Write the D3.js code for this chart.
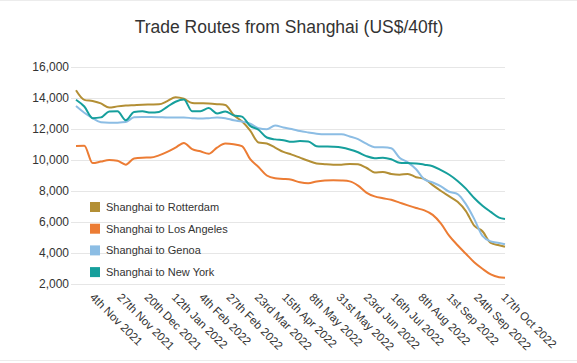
<!DOCTYPE html>
<html>
<head>
<meta charset="utf-8">
<script src="https://cdn.jsdelivr.net/npm/d3@7"></script>
<style>
  body { margin: 0; background: #fff; }
  svg { font-family: "Liberation Sans", Arial, sans-serif; display: block; }
</style>
</head>
<body>
<div id="chart"></div>
<script>
// Trade Routes from Shanghai - weekly readings (US$/40ft)

const dates = [
  "2021-10-25", "2021-11-01", "2021-11-08", "2021-11-15", "2021-11-22", "2021-11-29",
  "2021-12-06", "2021-12-13", "2021-12-20", "2021-12-27", "2022-01-03", "2022-01-10",
  "2022-01-17", "2022-01-24", "2022-01-31", "2022-02-07", "2022-02-14", "2022-02-21",
  "2022-02-28", "2022-03-07", "2022-03-14", "2022-03-21", "2022-03-28", "2022-04-04",
  "2022-04-11", "2022-04-18", "2022-04-25", "2022-05-02", "2022-05-09", "2022-05-16",
  "2022-05-23", "2022-05-30", "2022-06-06", "2022-06-13", "2022-06-20", "2022-06-27",
  "2022-07-04", "2022-07-11", "2022-07-18", "2022-07-25", "2022-08-01", "2022-08-08",
  "2022-08-15", "2022-08-22", "2022-08-29", "2022-09-05", "2022-09-12", "2022-09-19",
  "2022-09-26", "2022-10-03", "2022-10-10", "2022-10-17", "2022-10-22"
];

const rotterdam = [
  14500, 13880, 13800, 13650, 13380, 13460, 13510, 13540, 13570, 13580, 13590, 13800,
  14050, 13950, 13680, 13660, 13640, 13600, 13550, 12900, 12500, 11900, 11130, 11060,
  10800, 10520, 10350, 10150, 9950, 9780, 9730, 9700, 9700, 9750, 9720, 9500,
  9200, 9230, 9100, 9050, 9100, 8890, 8780, 8380, 8000, 7650, 7300, 6700,
  5770, 5400, 4650, 4500, 4400
];

const losAngeles = [
  10900, 10920, 9800, 9900, 10000, 9950, 9700, 10100, 10150, 10160, 10300, 10520,
  10800, 11100, 10700, 10560, 10400, 10800, 11060, 11020, 10900, 10050, 9550, 9000,
  8820, 8780, 8720, 8560, 8500, 8620, 8680, 8700, 8680, 8620, 8350, 7900,
  7650, 7530, 7430, 7250, 7070, 6900, 6750, 6460, 5900, 5100, 4500, 3950,
  3400, 2980, 2620, 2440, 2400
];

const genoa = [
  13480, 13050, 12700, 12430, 12400, 12410, 12450, 12760, 12780, 12770, 12760, 12740,
  12740, 12740, 12700, 12670, 12700, 12740, 12700, 12560, 12480, 12350, 12050, 11980,
  12220, 12100, 12000, 11870, 11780, 11700, 11660, 11660, 11660, 11520, 11350, 11050,
  10830, 10820, 10760, 10150, 9850, 9400, 8750, 8550, 8300, 7950, 7800, 7150,
  6200, 5100, 4750, 4650, 4560
];

const newYork = [
  13890, 13450, 12700, 12750, 13130, 13150, 12560, 13100, 13140, 13060, 13100, 13430,
  13760, 13900, 13150, 13150, 13350, 13000, 13130, 12880, 12800, 12200, 11950, 11450,
  11330, 11280, 11170, 11220, 11200, 10890, 10870, 10850, 10800, 10680, 10500, 10250,
  10120, 10150, 10050, 9820, 9800, 9780, 9700, 9600, 9350, 9050, 8650, 8150,
  7550, 7050, 6650, 6280, 6200
];

const routeNames = [
  "Shanghai to Rotterdam", "Shanghai to Los Angeles",
  "Shanghai to Genoa", "Shanghai to New York"
];
const routeColors = ["#b38f35", "#ec7c34", "#8cbde4", "#169f9c"];

const tickDates = [
  "2021-11-04", "2021-11-27", "2021-12-20", "2022-01-12", "2022-02-04", "2022-02-27",
  "2022-03-23", "2022-04-15", "2022-05-08", "2022-05-31", "2022-06-23", "2022-07-16",
  "2022-08-08", "2022-09-01", "2022-09-24", "2022-10-17"
];
const yTicks = [2000, 4000, 6000, 8000, 10000, 12000, 14000, 16000];

const width = 577, height = 363;
const margin = { top: 67, right: 72, bottom: 79, left: 76 };

const parse = d3.utcParse("%Y-%m-%d");
const xDates = dates.map(parse);

const series = [rotterdam, losAngeles, genoa, newYork].map((vals, i) => ({
  name: routeNames[i],
  color: routeColors[i],
  values: vals.map((v, j) => ({ date: xDates[j], value: v }))
}));

const svg = d3.select("#chart").append("svg")
  .attr("width", width).attr("height", height);

// faint frame lines like the source image
svg.append("line").attr("x1", 0).attr("x2", width).attr("y1", 0.5).attr("y2", 0.5)
  .attr("stroke", "#ececec");
svg.append("line").attr("x1", 0).attr("x2", width).attr("y1", 360.5).attr("y2", 360.5)
  .attr("stroke", "#ececec");

const x = d3.scaleUtc()
  .domain(d3.extent(xDates))
  .range([margin.left, width - margin.right]);

const y = d3.scaleLinear()
  .domain([2000, 16000])
  .range([height - margin.bottom, margin.top]);

// Title
svg.append("text")
  .attr("x", 289).attr("y", 33)
  .attr("text-anchor", "middle")
  .style("font-size", "17.5px")
  .style("fill", "#333")
  .text("Trade Routes from Shanghai (US$/40ft)");

// Y axis with gridlines
const yAxis = svg.append("g")
  .attr("transform", `translate(${margin.left - 5},0)`)
  .call(d3.axisLeft(y).tickValues(yTicks)
    .tickSize(-(width - margin.right - margin.left + 5))
    .tickPadding(2)
    .tickFormat(d3.format(",")));
yAxis.select(".domain").remove();
yAxis.selectAll(".tick line").attr("stroke", "#e6e6e6");
yAxis.selectAll(".tick text")
  .style("font-size", "12px")
  .style("fill", "#333")
  .attr("x", -2);

// X axis labels, rotated
const xAxis = svg.append("g")
  .attr("transform", `translate(0,${height - margin.bottom})`)
  .call(d3.axisBottom(x).tickValues(tickDates.map(parse)).tickSize(0)
    .tickFormat(d => {
      const day = d.getUTCDate();
      const suf = (day % 10 === 1 && day !== 11) ? "st"
        : (day % 10 === 2 && day !== 12) ? "nd"
        : (day % 10 === 3 && day !== 13) ? "rd" : "th";
      return day + suf + " " + d3.utcFormat("%b %Y")(d);
    }));
xAxis.select(".domain").remove();
xAxis.selectAll(".tick text")
  .attr("y", 0).attr("dy", 0)
  .attr("transform", "translate(1,14) rotate(45)")
  .style("text-anchor", "start")
  .style("font-size", "11.5px")
  .style("fill", "#333");

// Lines
const line = d3.line()
  .x(d => x(d.date))
  .y(d => y(d.value))
  .curve(d3.curveMonotoneX);

svg.append("g").selectAll("path")
  .data(series)
  .join("path")
  .attr("fill", "none")
  .attr("stroke", d => d.color)
  .attr("stroke-width", 2)
  .attr("stroke-linejoin", "round")
  .attr("d", d => line(d.values));

// Legend
const legend = svg.append("g").attr("transform", "translate(90,202)");
const item = legend.selectAll("g")
  .data(series)
  .join("g")
  .attr("transform", (d, i) => `translate(0,${i * 21.7})`);
item.append("rect")
  .attr("width", 10).attr("height", 10)
  .attr("fill", d => d.color);
item.append("text")
  .attr("x", 16).attr("y", 9)
  .style("font-size", "11px")
  .style("fill", "#333")
  .text(d => d.name);
</script>
</body>
</html>
